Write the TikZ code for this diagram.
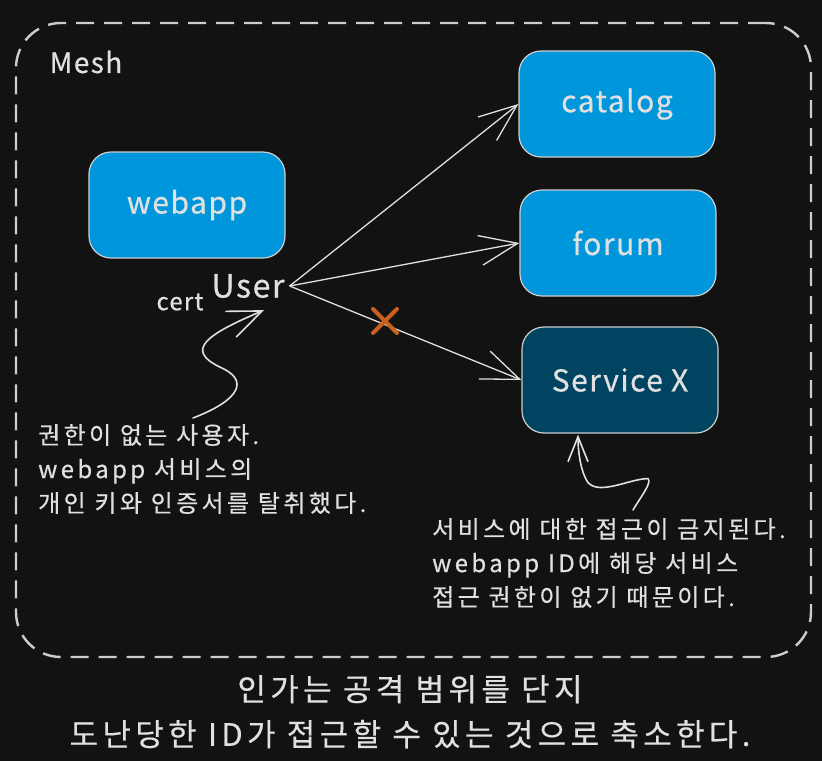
\documentclass[tikz,border=0pt]{standalone}
\usepackage{fontspec}
\setmainfont{Noto Sans CJK KR}[LetterSpace=5,FakeBold=0.6]
\newfontfamily\notefont{Noto Sans CJK KR}[LetterSpace=14,FakeBold=0.4]
\usetikzlibrary{arrows.meta,positioning,shapes.misc}
\definecolor{bgdark}{RGB}{18,18,18}
\definecolor{inkgray}{RGB}{224,224,224}
\definecolor{edgegray}{RGB}{205,205,205}
\definecolor{svcblue}{RGB}{0,150,219}
\definecolor{svcdeep}{RGB}{0,68,98}
\definecolor{denyorange}{RGB}{201,97,30}

\begin{document}
\begin{tikzpicture}[
   x=1pt, y=-1pt,
   meshzone/.style={draw=edgegray,line width=2.4pt,dash pattern=on 18pt off 10pt,
                    rounded corners=45pt,minimum width=795pt,minimum height=634pt},
   svc/.style={draw=edgegray,line width=1.2pt,rounded corners=22pt,fill=svcblue,
               minimum width=196pt,minimum height=106pt,text=inkgray,
               font=\fontsize{30}{32}\selectfont},
   svcdenied/.style={svc,fill=svcdeep},
   tag/.style={text=inkgray,inner sep=0pt},
   note/.style={text=inkgray,align=left,inner sep=0pt,font=\notefont\fontsize{24}{34}\selectfont},
   reqflow/.style={draw=inkgray,line width=1.3pt,-{Straight Barb[length=38pt,width=30pt]}},
   callout/.style={draw=inkgray,line width=1.6pt,line cap=round},
   ]
\useasboundingbox[fill=bgdark] (0,0) rectangle (822,761);
%% mesh boundary
\node[meshzone] (mesh) at (413.5,340) {};
\node[tag,font=\fontsize{28}{30}\selectfont] (meshlbl) at (86,62) {Mesh};
%% services
\node[svc]       (webapp)  at (187,205) {webapp};
\node[svc]       (catalog) at (617,104) {catalog};
\node[svc]       (forum)   at (618,243) {forum};
\node[svcdenied] (svcx)    at (620,380) {Service X};
%% stolen identity
\node[tag,font=\fontsize{32}{34}\selectfont] (user) at (248,286) {User};
\node[tag,font=\fontsize{24}{26}\selectfont] (cert) at (180,302) {cert};
%% requests from the user
\draw[reqflow] ([xshift=5pt]user.east) -- (catalog.west);
\draw[reqflow] ([xshift=5pt]user.east) -- (forum.west);
\draw[reqflow] ([xshift=5pt]user.east) -- (svcx.west);
\node[cross out,draw=denyorange,line width=4pt,line cap=round,
      minimum size=20pt,inner sep=0pt] (deny) at (385,321) {};
%% notes
\node[note,anchor=north west] (noteL) at (38,424)
   {권한이 없는 사용자.\\webapp 서비스의\\개인 키와 인증서를 탈취했다.};
\node[note,anchor=north west] (noteR) at (432,518)
   {서비스에 대한 접근이 금지된다.\\webapp ID에 해당 서비스\\접근 권한이 없기 때문이다.};
\draw[callout,-{Straight Barb[length=34pt,width=28pt]}]
   ([shift={(155,-6)}]noteL.north west)
   .. controls +(47,-18) and +(30,13) .. ([shift={(-28,69)}]user.south)
   .. controls +(-35,-17) and +(-59,25) .. ([shift={(16,12)}]user.south);
\draw[callout,-{Straight Barb[length=25pt,width=20pt]}]
   ([shift={(201,-8)}]noteR.north west)
   .. controls +(9,-15) and +(4,4) .. ([shift={(28,45)}]svcx.south)
   .. controls +(-18,0) and +(12,13) .. ([shift={(-32,49)}]svcx.south)
   .. controls +(-8,-12) and +(0,15) .. ([shift={(-42,1)}]svcx.south);
%% caption
\node[note,align=center,anchor=north,font=\notefont\fontsize{31}{45}\selectfont] (caption) at (410,675)
   {인가는 공격 범위를 단지\\도난당한 ID가 접근할 수 있는 것으로 축소한다.};
\end{tikzpicture}
\end{document}
